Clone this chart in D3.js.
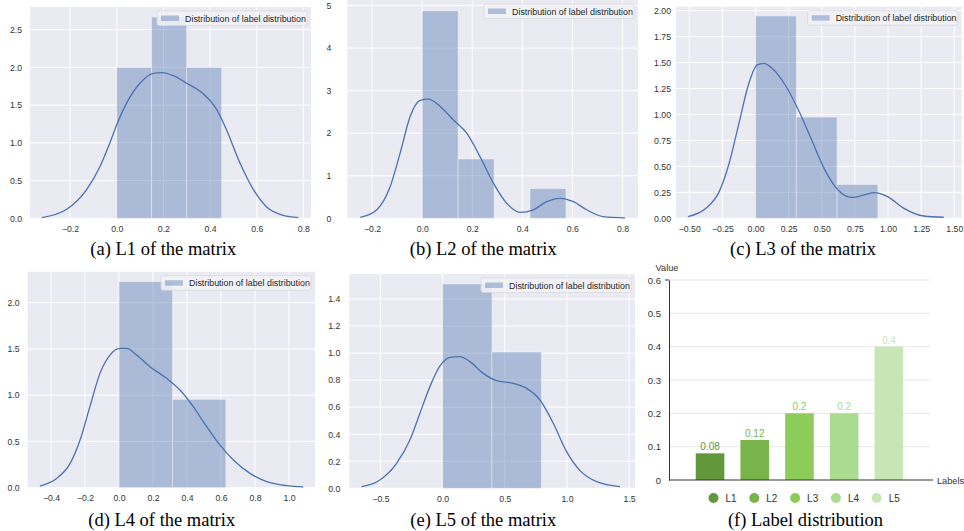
<!DOCTYPE html>
<html>
<head>
<meta charset="utf-8">
<script src="https://cdn.jsdelivr.net/npm/d3@7"></script>
<style>
  body { margin: 0; background: #fff; }
  svg { display: block; }
</style>
</head>
<body>
<div id="chart"></div>
<script>
// Histogram bins (edges) and density heights
var l1Edges = [0, 0.15, 0.30, 0.45];
var l1Density = [2.0, 2.667, 2.0];
var l1KdeX = [-0.321, -0.214, -0.129, -0.071, -0.029, 0.0, 0.043, 0.1, 0.157, 0.196, 0.243, 0.3, 0.371, 0.429, 0.471, 0.529, 0.586, 0.643, 0.714, 0.779];
var l1KdeY = [0.01, 0.12, 0.38, 0.69, 1.0, 1.24, 1.53, 1.79, 1.92, 1.93, 1.89, 1.79, 1.65, 1.44, 1.17, 0.73, 0.38, 0.15, 0.04, 0.01];

var l2Edges = [0, 0.1436, 0.2871, 0.4307, 0.5743];
var l2Density = [4.875, 1.393, 0, 0.696];
var l2KdeX = [-0.247, -0.181, -0.128, -0.088, -0.048, -0.008, 0.025, 0.072, 0.125, 0.178, 0.231, 0.285, 0.338, 0.391, 0.444, 0.497, 0.551, 0.604, 0.657, 0.723, 0.81];
var l2KdeY = [0.02, 0.2, 0.74, 1.53, 2.39, 2.77, 2.80, 2.63, 2.31, 2.0, 1.45, 0.82, 0.35, 0.14, 0.2, 0.39, 0.47, 0.39, 0.2, 0.04, 0.01];

var l3Edges = [0, 0.3078, 0.6155, 0.9233];
var l3Density = [1.949, 0.975, 0.325];
var l3KdeX = [-0.51, -0.374, -0.274, -0.199, -0.125, -0.05, 0.012, 0.062, 0.125, 0.224, 0.324, 0.424, 0.523, 0.623, 0.722, 0.822, 0.897, 0.996, 1.12, 1.27, 1.42];
var l3KdeY = [0.016, 0.096, 0.257, 0.53, 0.915, 1.30, 1.477, 1.493, 1.445, 1.284, 1.043, 0.754, 0.466, 0.273, 0.202, 0.225, 0.247, 0.209, 0.096, 0.022, 0.01];

var l4Edges = [0, 0.3143, 0.6286];
var l4Density = [2.227, 0.955];
var l4KdeX = [-0.465, -0.367, -0.288, -0.229, -0.171, -0.112, -0.053, 0.006, 0.045, 0.104, 0.182, 0.28, 0.359, 0.437, 0.516, 0.594, 0.673, 0.771, 0.869, 0.986, 1.084];
var l4KdeY = [0.018, 0.10, 0.26, 0.515, 0.876, 1.236, 1.434, 1.506, 1.506, 1.434, 1.308, 1.182, 1.056, 0.876, 0.659, 0.461, 0.30, 0.155, 0.065, 0.022, 0.01];

var l5Edges = [0, 0.397, 0.794];
var l5Density = [1.511, 1.008];
var l5KdeX = [-0.651, -0.504, -0.37, -0.263, -0.182, -0.102, -0.021, 0.059, 0.139, 0.22, 0.327, 0.434, 0.568, 0.676, 0.783, 0.89, 0.997, 1.105, 1.239, 1.426];
var l5KdeY = [0.012, 0.062, 0.185, 0.357, 0.555, 0.752, 0.905, 0.969, 0.974, 0.937, 0.85, 0.796, 0.776, 0.739, 0.653, 0.481, 0.271, 0.131, 0.049, 0.012];

// Tick values per panel
var l1XTicks = [-0.2, 0, 0.2, 0.4, 0.6, 0.8], l1YTicks = [0, 0.5, 1, 1.5, 2, 2.5];
var l2XTicks = [-0.2, 0, 0.2, 0.4, 0.6, 0.8], l2YTicks = [0, 1, 2, 3, 4, 5];
var l3XTicks = [-0.5, -0.25, 0, 0.25, 0.5, 0.75, 1, 1.25, 1.5], l3YTicks = [0, 0.25, 0.5, 0.75, 1, 1.25, 1.5, 1.75, 2];
var l4XTicks = [-0.4, -0.2, 0, 0.2, 0.4, 0.6, 0.8, 1.0], l4YTicks = [0, 0.5, 1, 1.5, 2];
var l5XTicks = [-0.5, 0, 0.5, 1, 1.5], l5YTicks = [0, 0.2, 0.4, 0.6, 0.8, 1.0, 1.2, 1.4];

// Label distribution bar chart
var labelNames = ["L1", "L2", "L3", "L4", "L5"];
var labelValues = [0.08, 0.12, 0.2, 0.2, 0.4];
var labelTicks = [0, 0.1, 0.2, 0.3, 0.4, 0.5, 0.6];
var labelColors = ["#62983b", "#78b449", "#8ccd5a", "#aadb8f", "#c6e6b4"];

var sansFont = "'Liberation Sans', Arial, sans-serif";
var serifFont = "'Liberation Serif', 'Times New Roman', serif";

var svg = d3.select("#chart")
  .append("svg")
  .attr("width", 964)
  .attr("height", 531);

function drawDist(p) {
  var x = d3.scaleLinear().domain(p.xDomain).range([p.left, p.right]);
  var y = d3.scaleLinear().domain([0, p.yMax]).range([p.bottom, p.top]);
  var g = svg.append("g");

  g.append("rect")
    .attr("x", p.left).attr("y", p.top)
    .attr("width", p.right - p.left).attr("height", p.bottom - p.top)
    .attr("fill", "#eaeaf2");

  // white grid
  g.append("g").selectAll("line")
    .data(p.xTicks)
    .join("line")
      .attr("x1", d => x(d)).attr("x2", d => x(d))
      .attr("y1", p.top).attr("y2", p.bottom)
      .attr("stroke", "#fff").attr("stroke-width", 1);
  g.append("g").selectAll("line")
    .data(p.yTicks)
    .join("line")
      .attr("x1", p.left).attr("x2", p.right)
      .attr("y1", d => y(d)).attr("y2", d => y(d))
      .attr("stroke", "#fff").attr("stroke-width", 1);

  // histogram bars
  var bins = p.density.map((h, i) => ({x0: p.edges[i], x1: p.edges[i + 1], h: h}));
  g.append("g").selectAll("rect")
    .data(bins.filter(b => b.h > 0))
    .join("rect")
      .attr("x", d => x(d.x0))
      .attr("width", d => x(d.x1) - x(d.x0))
      .attr("y", d => y(d.h))
      .attr("height", d => y(0) - y(d.h))
      .attr("fill", "#4c72b0")
      .attr("fill-opacity", 0.4)
      .attr("stroke", "#f4f4f8")
      .attr("stroke-opacity", 0.6)
      .attr("stroke-width", 0.8);

  // kde line
  var pts = p.kdeX.map((v, i) => [v, p.kdeY[i]]);
  g.append("path")
    .datum(pts)
    .attr("fill", "none")
    .attr("stroke", "#4c72b0")
    .attr("stroke-width", 1.3)
    .attr("d", d3.line().x(d => x(d[0])).y(d => y(d[1])).curve(d3.curveMonotoneX));

  // axes
  var xAxis = g.append("g")
    .attr("transform", `translate(0,${p.bottom})`)
    .call(d3.axisBottom(x).tickValues(p.xTicks).tickFormat(d3.format(p.xFmt)).tickSize(0).tickPadding(7.5));
  var yAxis = g.append("g")
    .attr("transform", `translate(${p.left},0)`)
    .call(d3.axisLeft(y).tickValues(p.yTicks).tickFormat(d3.format(p.yFmt)).tickSize(0).tickPadding(p.yPad));
  [xAxis, yAxis].forEach(a => {
    a.select(".domain").remove();
    a.selectAll("text").attr("font-family", sansFont).attr("font-size", 8.7).attr("fill", "#333");
  });

  // legend
  var lw = 150, lh = 14.5;
  var lx = p.right - 4 - lw, ly = p.top + 4;
  g.append("rect")
    .attr("x", lx).attr("y", ly).attr("width", lw).attr("height", lh)
    .attr("rx", 2)
    .attr("fill", "#f3f3f7").attr("fill-opacity", 0.85)
    .attr("stroke", "#d8d8de").attr("stroke-width", 0.8);
  g.append("rect")
    .attr("x", lx + 4).attr("y", ly + 4.5).attr("width", 18).attr("height", 5.5)
    .attr("fill", "#4c72b0").attr("fill-opacity", 0.4);
  g.append("text")
    .attr("x", lx + 28).attr("y", ly + 10.5)
    .attr("font-family", sansFont).attr("font-size", 8.9).attr("fill", "#262626")
    .text("Distribution of label distribution");

  // caption
  svg.append("text")
    .attr("x", p.capX).attr("y", p.capY)
    .attr("text-anchor", "middle")
    .attr("font-family", serifFont).attr("font-size", 18.5).attr("fill", "#000")
    .text(p.caption);
}

drawDist({left: 30, right: 311, top: 7, bottom: 218.3, xDomain: [-0.3716, 0.8329], yMax: 2.80,
  edges: l1Edges, density: l1Density, kdeX: l1KdeX, kdeY: l1KdeY,
  xTicks: l1XTicks, yTicks: l1YTicks, xFmt: ".1f", yFmt: ".1f", yPad: 8,
  caption: "(a) L1 of the matrix", capX: 163.3, capY: 254.5});

drawDist({left: 347.3, right: 638, top: 0, bottom: 218.3, xDomain: [-0.299, 0.862], yMax: 5.13,
  edges: l2Edges, density: l2Density, kdeX: l2KdeX, kdeY: l2KdeY,
  xTicks: l2XTicks, yTicks: l2YTicks, xFmt: ".1f", yFmt: "d", yPad: 16,
  caption: "(b) L2 of the matrix", capX: 483.3, capY: 254.5});

drawDist({left: 676, right: 961.7, top: 6.7, bottom: 218.3, xDomain: [-0.6, 1.556], yMax: 2.038,
  edges: l3Edges, density: l3Density, kdeX: l3KdeX, kdeY: l3KdeY,
  xTicks: l3XTicks, yTicks: l3YTicks, xFmt: ".2f", yFmt: ".2f", yPad: 5,
  caption: "(c) L3 of the matrix", capX: 803, capY: 254.5});

drawDist({left: 27.7, right: 315, top: 271.7, bottom: 487.7, xDomain: [-0.537, 1.153], yMax: 2.335,
  edges: l4Edges, density: l4Density, kdeX: l4KdeX, kdeY: l4KdeY,
  xTicks: l4XTicks, yTicks: l4YTicks, xFmt: ".1f", yFmt: ".1f", yPad: 8,
  caption: "(d) L4 of the matrix", capX: 161.7, capY: 525.5});

drawDist({left: 349.3, right: 635, top: 274, bottom: 488.3, xDomain: [-0.75, 1.547], yMax: 1.585,
  edges: l5Edges, density: l5Density, kdeX: l5KdeX, kdeY: l5KdeY,
  xTicks: l5XTicks, yTicks: l5YTicks, xFmt: ".1f", yFmt: ".1f", yPad: 9,
  caption: "(e) L5 of the matrix", capX: 483.3, capY: 525.5});

// (f) Label distribution bar chart
var fLeft = 669, fRight = 930, fTop = 280, fBottom = 480;
var fx = d3.scaleBand().domain(labelNames).range([687.7, 911.2]).padding(0);
var fy = d3.scaleLinear().domain([0, 0.6]).range([fBottom, fTop]);
var fg = svg.append("g");

fg.append("g").selectAll("line")
  .data(labelTicks.filter(d => d > 0))
  .join("line")
    .attr("x1", fLeft).attr("x2", fRight)
    .attr("y1", d => fy(d)).attr("y2", d => fy(d))
    .attr("stroke", "#e6e6e6").attr("stroke-width", 1);

var fyAxis = fg.append("g")
  .attr("transform", `translate(${fLeft},0)`)
  .call(d3.axisLeft(fy).tickValues(labelTicks).tickFormat(d => d === 0 ? "0" : d3.format(".1f")(d)).tickSize(0).tickPadding(8));
fyAxis.select(".domain").attr("stroke", "#333").attr("stroke-width", 1);
fyAxis.selectAll("text").attr("font-family", sansFont).attr("font-size", 9.5).attr("fill", "#333");
fg.append("line")
  .attr("x1", fLeft - 4).attr("x2", fLeft).attr("y1", fTop).attr("y2", fTop)
  .attr("stroke", "#333");

var bw = fx.bandwidth() * 0.64;
fg.append("g").selectAll("rect")
  .data(labelValues)
  .join("rect")
    .attr("x", (d, i) => fx(labelNames[i]) + (fx.bandwidth() - bw) / 2)
    .attr("width", bw)
    .attr("y", d => fy(d))
    .attr("height", d => fBottom - fy(d))
    .attr("fill", (d, i) => labelColors[i]);

fg.append("g").selectAll("text")
  .data(labelValues)
  .join("text")
    .attr("x", (d, i) => fx(labelNames[i]) + fx.bandwidth() / 2)
    .attr("y", d => fy(d) - 3)
    .attr("text-anchor", "middle")
    .attr("font-family", sansFont).attr("font-size", 10)
    .attr("fill", (d, i) => labelColors[i])
    .text(d => d);

fg.append("line")
  .attr("x1", fLeft).attr("x2", 933).attr("y1", fBottom).attr("y2", fBottom)
  .attr("stroke", "#333").attr("stroke-width", 1);

fg.append("text")
  .attr("x", 937).attr("y", fBottom + 3.5)
  .attr("font-family", sansFont).attr("font-size", 9.2).attr("fill", "#333")
  .text("Labels");
fg.append("text")
  .attr("x", 667).attr("y", 271)
  .attr("text-anchor", "middle")
  .attr("font-family", sansFont).attr("font-size", 9.2).attr("fill", "#333")
  .text("Value");

// legend for (f)
var leg = fg.append("g").selectAll("g")
  .data(labelNames)
  .join("g")
    .attr("transform", (d, i) => `translate(${713.5 + i * 40.8},498)`);
leg.append("circle")
  .attr("r", 5)
  .attr("fill", (d, i) => labelColors[i]);
leg.append("text")
  .attr("x", 12).attr("y", 3.6)
  .attr("font-family", sansFont).attr("font-size", 10).attr("fill", "#333")
  .text(d => d);

svg.append("text")
  .attr("x", 805.5).attr("y", 525.5)
  .attr("text-anchor", "middle")
  .attr("font-family", serifFont).attr("font-size", 18.5).attr("fill", "#000")
  .text("(f) Label distribution");
</script>
</body>
</html>
